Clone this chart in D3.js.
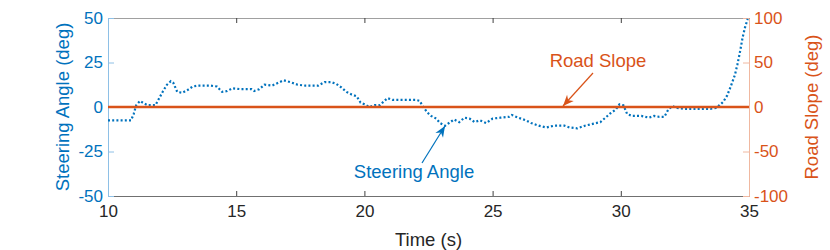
<!DOCTYPE html>
<html><head><meta charset="utf-8">
<script src="https://cdn.jsdelivr.net/npm/d3@7"></script>
<style>body{margin:0;background:#fff;}svg{display:block;font-family:"Liberation Sans",Arial,Helvetica,sans-serif;}</style>
</head><body><svg id="c" width="830" height="250"></svg>
<script>
const steerTime = [10.0,10.9,11.0,11.1,11.25,11.4,11.55,11.85,12.0,12.15,12.3,12.45,12.55,12.7,12.9,13.1,13.3,13.5,14.0,14.25,14.45,14.65,14.85,15.2,15.6,15.7,15.9,16.1,16.4,16.7,16.85,17.1,17.4,17.7,18.2,18.45,18.7,18.9,19.1,19.3,19.5,19.7,19.85,20.0,20.2,20.4,20.6,20.75,20.9,21.1,22.0,22.15,22.3,22.45,22.6,22.8,22.95,23.15,23.3,23.5,23.7,23.9,24.1,24.3,24.5,24.75,25.0,25.3,25.65,25.75,26.0,26.3,26.5,26.8,27.1,27.4,27.8,28.0,28.3,28.6,28.9,29.2,29.4,29.6,29.8,29.95,30.1,30.25,30.45,30.8,31.1,31.3,31.5,31.7,31.85,32.0,32.2,32.5,33.0,33.5,33.7,33.85,34.0,34.15,34.3,34.45,34.55,34.65,34.75,34.85,34.95];
const steerAngle = [-7.5,-7.5,-4,1,3.4,2,1,1,5,9,12.5,14.5,13.5,8.5,8,9.5,11.5,12,12,11.5,8.5,9,10.5,10,10,9,10,12.5,12,14,15,14,12.5,12,12,14,14,13,11,8.5,7,6,2.5,1.5,0,1,1,3,5,4,4,3.5,0,-3,-5,-6.5,-9,-10.5,-9,-7,-8.5,-6,-6.5,-8.5,-7.5,-9,-6.5,-6,-5.5,-4.5,-6,-7.5,-9,-10.5,-11.5,-10.5,-10.5,-11.5,-12,-10.5,-9.5,-8.5,-6,-3.5,-1.5,1.5,1,-4,-5,-5,-6,-5,-5.5,-5.5,-1.5,0.5,-0.5,-1,-1,-1,-0.5,1,3,6.5,12,18,24,31,39,45,49.5];
const slopeTime = [10, 35];
const slopeValue = [0, 0];
const xTicks = [10,15,20,25,30,35];
const leftTicks = [-50,-25,0,25,50];
const rightTicks = [-100,-50,0,50,100];

const BLUE = "#0072BD", ORANGE = "#D95319", DARK = "#262626";
const L = 108, R = 749, T = 18, B = 196;
const TICKFS = 17, LABFS = 18.5;
const fmt = d => String(d);
const svg = d3.select("#c");
const x = d3.scaleLinear().domain([10,35]).range([L,R]);
const yL = d3.scaleLinear().domain([-50,50]).range([B,T]);
const yR = d3.scaleLinear().domain([-100,100]).range([B,T]);

// top frame line
svg.append("line").attr("x1",L).attr("x2",R).attr("y1",T+0.5).attr("y2",T+0.5).attr("stroke","#a0a0a0").attr("stroke-width",1);
// bottom axis
const gx = svg.append("g").attr("transform",`translate(0,${B})`)
  .call(d3.axisBottom(x).tickValues(xTicks).tickSize(-5).tickPadding(9).tickFormat(fmt));
gx.select(".domain").attr("stroke","#707070");
gx.selectAll(".tick line").attr("stroke","#404040");
gx.selectAll("text").attr("fill",DARK).attr("font-size",TICKFS).attr("font-family",null);
// top ticks
const gt = svg.append("g").attr("transform",`translate(0,${T})`)
  .call(d3.axisTop(x).tickValues(xTicks).tickSize(-5).tickFormat(""));
gt.select(".domain").remove();
gt.selectAll(".tick line").attr("stroke","#404040");
// left axis
const gl = svg.append("g").attr("transform",`translate(${L},0)`)
  .call(d3.axisLeft(yL).tickValues(leftTicks).tickSize(-6).tickPadding(5).tickFormat(fmt));
gl.select(".domain").attr("stroke","#8ec0e6");
gl.selectAll(".tick line").attr("stroke","#8ec0e6");
gl.selectAll("text").attr("fill",BLUE).attr("font-size",TICKFS).attr("font-family",null);
// right axis
const gr = svg.append("g").attr("transform",`translate(${R},0)`)
  .call(d3.axisRight(yR).tickValues(rightTicks).tickSize(-6).tickPadding(5).tickFormat(fmt));
gr.select(".domain").attr("stroke","#f0b8a0");
gr.selectAll(".tick line").attr("stroke","#f0b8a0");
gr.selectAll("text").attr("fill",ORANGE).attr("font-size",TICKFS).attr("font-family",null);

// data lines
const steer = steerTime.map((t,i)=>[t,steerAngle[i]]);
svg.append("path").datum(steer)
  .attr("d", d3.line().x(d=>x(d[0])).y(d=>yL(d[1])))
  .attr("fill","none").attr("stroke",BLUE).attr("stroke-width",2.2).attr("stroke-dasharray","2,2.2");
const slope = slopeTime.map((t,i)=>[t,slopeValue[i]]);
svg.append("path").datum(slope)
  .attr("d", d3.line().x(d=>x(d[0])).y(d=>yR(d[1])))
  .attr("fill","none").attr("stroke",ORANGE).attr("stroke-width",2.5);

// axis labels
svg.append("text").attr("transform",`translate(69,${(T+B)/2}) rotate(-90)`).attr("text-anchor","middle")
  .attr("fill",BLUE).attr("font-size",LABFS).text("Steering Angle (deg)");
svg.append("text").attr("transform",`translate(818,${(T+B)/2}) rotate(-90)`).attr("text-anchor","middle")
  .attr("fill",ORANGE).attr("font-size",LABFS).text("Road Slope (deg)");
svg.append("text").attr("x",(L+R)/2).attr("y",246).attr("text-anchor","middle")
  .attr("fill",DARK).attr("font-size",LABFS).text("Time (s)");

// annotations
function arrow(x1,y1,x2,y2,color){
  svg.append("line").attr("x1",x1).attr("y1",y1).attr("x2",x2).attr("y2",y2).attr("stroke",color).attr("stroke-width",1.2);
  const ang = Math.atan2(y2-y1,x2-x1), len=11, w=4.5;
  const bx = x2 - len*Math.cos(ang), by = y2 - len*Math.sin(ang);
  const px = -Math.sin(ang)*w, py = Math.cos(ang)*w;
  const mx = x2 - 0.7*len*Math.cos(ang), my = y2 - 0.7*len*Math.sin(ang);
  svg.append("path").attr("d",`M${x2},${y2}L${bx+px},${by+py}L${mx},${my}L${bx-px},${by-py}Z`).attr("fill",color);
}
arrow(593,73,563,106,ORANGE);
svg.append("text").attr("x",598).attr("y",67).attr("text-anchor","middle").attr("fill",ORANGE).attr("font-size",LABFS).text("Road Slope");
arrow(422,163,445,126,BLUE);
svg.append("text").attr("x",414).attr("y",178).attr("text-anchor","middle").attr("fill",BLUE).attr("font-size",LABFS).text("Steering Angle");
</script></body></html>
